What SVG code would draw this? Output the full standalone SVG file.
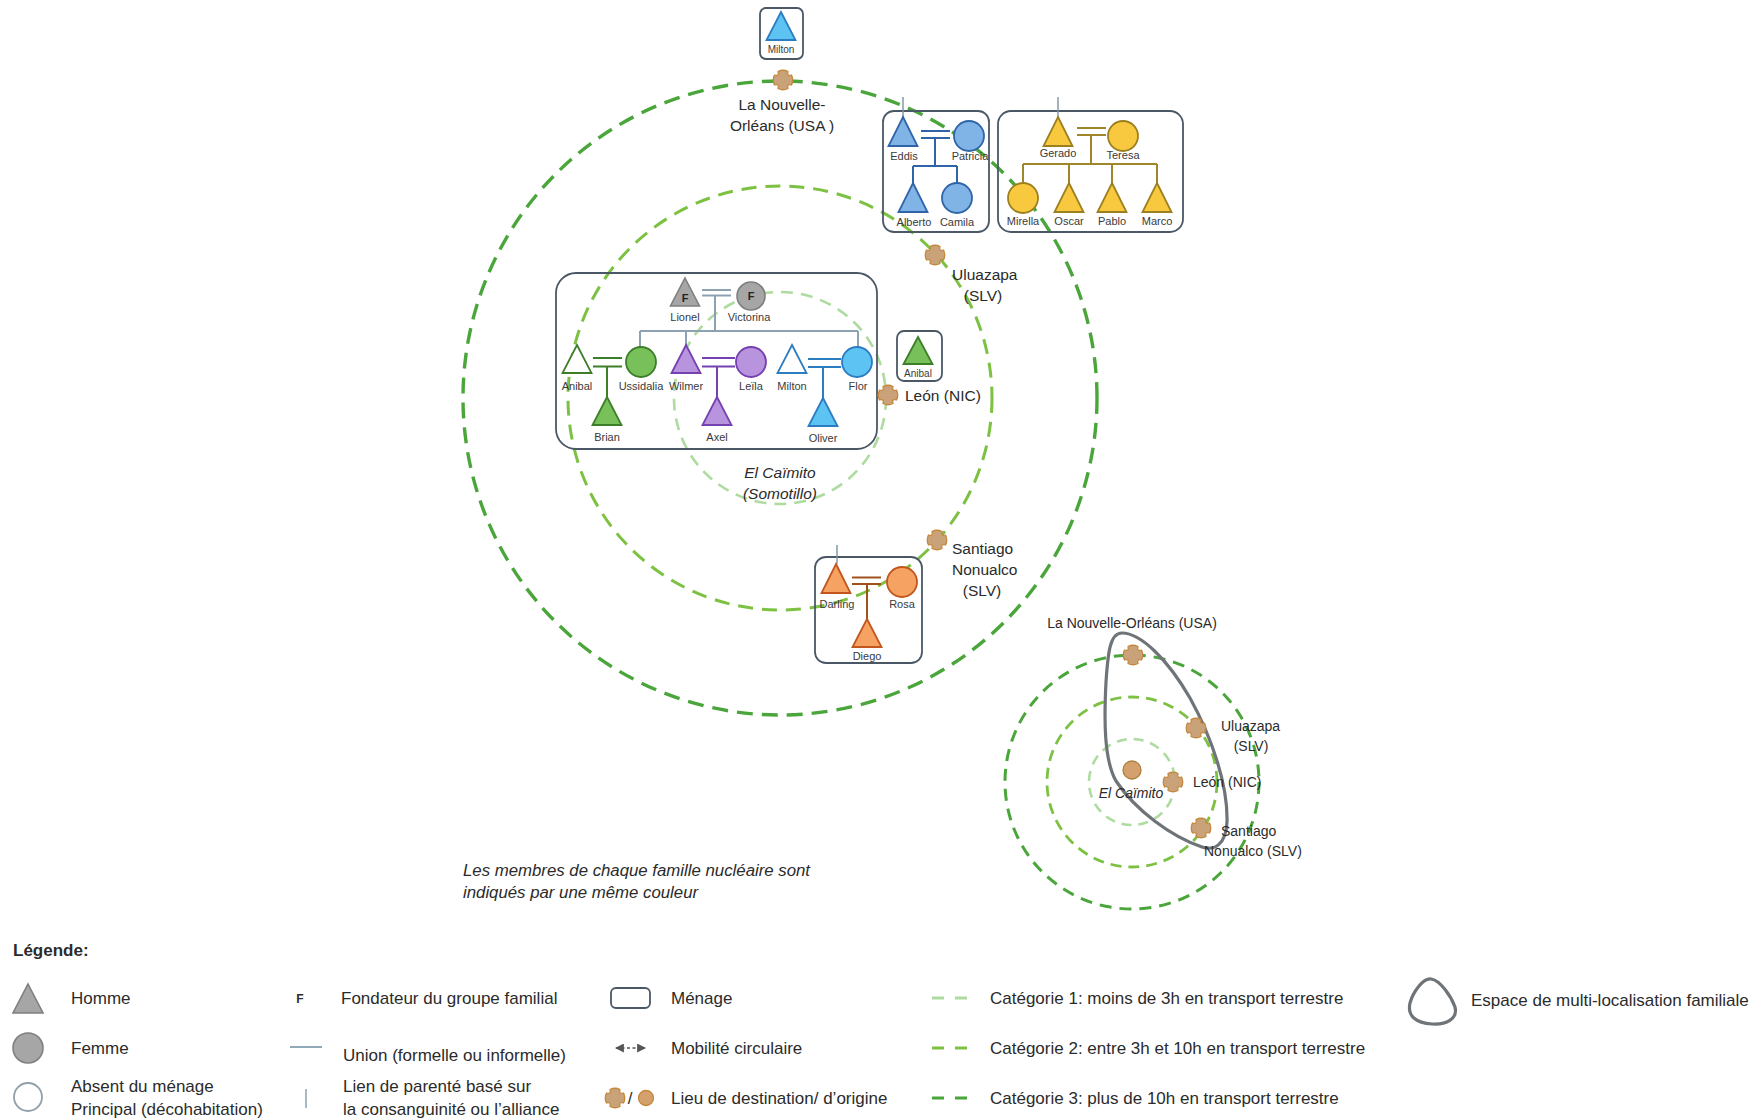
<svg xmlns="http://www.w3.org/2000/svg" width="1760" height="1120" viewBox="0 0 1760 1120">
<style>
text{font-family:"Liberation Sans",Arial,sans-serif;fill:#2b2b2b}
.box{fill:none;stroke:#4a5866;stroke-width:1.8}
.lbl{font-size:11px;text-anchor:middle;fill:#3a3a3a}
.lbs{font-size:10px;text-anchor:middle;fill:#3a3a3a}
.map{font-size:15.5px}
.smap{font-size:14px}
.leg{font-size:17px}
.note{font-size:16.8px;font-style:italic}
.it{font-style:italic}
.fl{font-size:11px;font-weight:bold;text-anchor:middle;fill:#222}
.c1{fill:none;stroke:#aedb9f;stroke-width:2.6;stroke-dasharray:12 8}
.c2{fill:none;stroke:#7cc142;stroke-width:3;stroke-dasharray:15 9}
.c3{fill:none;stroke:#4aa63a;stroke-width:3.4;stroke-dasharray:16 9}
.s1{fill:none;stroke:#aedb9f;stroke-width:2.6;stroke-dasharray:10 7}
.s2{fill:none;stroke:#7cc142;stroke-width:2.8;stroke-dasharray:11 7}
.s3{fill:none;stroke:#4aa63a;stroke-width:3;stroke-dasharray:12 8}
.gray{fill:#a6a6a6;stroke:#7f7f7f;stroke-width:1.6}
.green{fill:#77c05a;stroke:#3d7f29;stroke-width:1.8}
.greenA{fill:#fff;stroke:#3d7f29;stroke-width:1.8}
.purple{fill:#b893de;stroke:#7540b0;stroke-width:1.8}
.blue{fill:#5cc3f2;stroke:#2b7cc0;stroke-width:1.8}
.blueA{fill:#fff;stroke:#2b7cc0;stroke-width:1.8}
.eblue{fill:#80b3e6;stroke:#2f65a8;stroke-width:1.8}
.yellow{fill:#f8c93e;stroke:#9c8020;stroke-width:1.8}
.orange{fill:#f5a263;stroke:#c2561c;stroke-width:1.8}
.ln{fill:none;stroke-width:2}
.lgray{stroke:#8ea1b2}
.lgreen{stroke:#3d7f29}
.lpurple{stroke:#7540b0}
.lblue{stroke:#2b7cc0}
.leblue{stroke:#2f65a8}
.lyellow{stroke:#a0862a}
.lorange{stroke:#a0521c}
.kin{stroke:#7d93a3;stroke-width:1.4;fill:none}
.mkr{fill:#c9a27a;stroke:#c4883c;stroke-width:1.3;stroke-linejoin:round}
.blob{fill:none;stroke:#6f7479;stroke-width:3.2}
</style>
<defs>
<path id="mk" d="M-5,-8.5 Q0,-11 5,-8.5 Q3.5,-3.5 8.5,-5 Q11,0 8.5,5 Q3.5,3.5 5,8.5 Q0,11 -5,8.5 Q-3.5,3.5 -8.5,5 Q-11,0 -8.5,-5 Q-3.5,-3.5 -5,-8.5 Z"/>
<marker id="ah" viewBox="0 0 8 8" refX="7" refY="4" markerWidth="6" markerHeight="6" orient="auto-start-reverse">
<path d="M0,0 L8,4 L0,8 Z" fill="#555"/>
</marker>
</defs>
<rect width="1760" height="1120" fill="#fff"/>

<!-- distance rings, main map -->
<g id="rings-main">
<circle class="c3" cx="780" cy="398" r="317"/>
<circle class="c2" cx="780" cy="398" r="212"/>
<circle class="c1" cx="780" cy="398" r="106"/>
</g>

<!-- distance rings, small map -->
<g id="rings-small">
<circle class="s3" cx="1132" cy="782" r="127"/>
<circle class="s2" cx="1132" cy="782" r="85"/>
<circle class="s1" cx="1132" cy="782" r="43"/>
</g>

<!-- households -->
<g id="households">
<rect id="hh-caimito" class="box" x="556" y="273" width="321" height="176" rx="20"/>
<rect id="hh-anibal" class="box" x="897" y="331" width="45" height="50" rx="7"/>
<rect id="hh-milton" class="box" x="760" y="8" width="43" height="51" rx="6"/>
<rect id="hh-eddis" class="box" x="883" y="111" width="106" height="121" rx="11"/>
<rect id="hh-gerado" class="box" x="998" y="111" width="185" height="121" rx="13"/>
<rect id="hh-darling" class="box" x="815" y="557" width="107" height="106" rx="11"/>
</g>

<!-- connectors -->
<g id="connectors">
<path class="ln lgray" d="M702,290 H731 M702,295.5 H731 M715,295.5 V331 M640,331 H858 M640,331 V347 M686,331 V345 M858,331 V347"/>
<path class="ln lgreen" d="M593,358 H622 M593,366.5 H622 M607,366.5 V397"/>
<path class="ln lpurple" d="M702,358 H735 M702,366.5 H735 M717,366.5 V397"/>
<path class="ln lblue" d="M808,359 H841 M808,367 H841 M823,367 V398"/>
<path class="kin" d="M903,97 V117"/>
<path class="ln leblue" d="M921,131 H950 M921,138 H950 M935,138 V166 M913,166 H957 M913,166 V183 M957,166 V183"/>
<path class="kin" d="M1058,97 V117"/>
<path class="ln lyellow" d="M1077,128 H1106 M1077,135 H1106 M1091,135 V164 M1023,164 H1157 M1023,164 V183 M1069,164 V183 M1112,164 V183 M1157,164 V183"/>
<path class="kin" d="M837,545 V564"/>
<path class="ln lorange" d="M852,577.5 H881 M852,584 H881 M867,584 V619"/>
</g>

<!-- people -->
<g id="n-lionel"><polygon class="gray" points="685,278 699.5,306 670.5,306"/><text class="fl" x="685" y="302">F</text><text class="lbl" x="685" y="321">Lionel</text></g>
<g id="n-victorina"><circle class="gray" cx="751" cy="296" r="14"/><text class="fl" x="751" y="300">F</text><text class="lbl" x="749" y="321">Victorina</text></g>
<g id="n-anibal-abs"><polygon class="greenA" points="577,345 591.5,373 562.5,373"/><text class="lbl" x="577" y="390">Anibal</text></g>
<g id="n-ussidalia"><circle class="green" cx="641" cy="362" r="15"/><text class="lbl" x="641" y="390">Ussidalia</text></g>
<g id="n-brian"><polygon class="green" points="607,397 621.5,425 592.5,425"/><text class="lbl" x="607" y="441">Brian</text></g>
<g id="n-wilmer"><polygon class="purple" points="686,345 700.5,373 671.5,373"/><text class="lbl" x="686" y="390">Wilmer</text></g>
<g id="n-leila"><circle class="purple" cx="751" cy="362" r="15"/><text class="lbl" x="751" y="390">Leïla</text></g>
<g id="n-axel"><polygon class="purple" points="717,397 731.5,425 702.5,425"/><text class="lbl" x="717" y="441">Axel</text></g>
<g id="n-milton-abs"><polygon class="blueA" points="792,345 806.5,373 777.5,373"/><text class="lbl" x="792" y="390">Milton</text></g>
<g id="n-flor"><circle class="blue" cx="857" cy="362" r="15"/><text class="lbl" x="858" y="390">Flor</text></g>
<g id="n-oliver"><polygon class="blue" points="823,398 837.5,426 808.5,426"/><text class="lbl" x="823" y="442">Oliver</text></g>

<g id="n-anibal"><polygon class="green" points="918,337 932.5,364 903.5,364"/><text class="lbs" x="918" y="377">Anibal</text></g>
<g id="n-milton"><polygon class="blue" points="781,12 795.5,40 766.5,40"/><text class="lbs" x="781" y="53">Milton</text></g>

<g id="n-eddis"><polygon class="eblue" points="903,117 917.5,146 888.5,146"/><text class="lbl" x="904" y="160">Eddis</text></g>
<g id="n-patricia"><circle class="eblue" cx="969" cy="136" r="15"/><text class="lbl" x="970" y="160">Patricia</text></g>
<g id="n-alberto"><polygon class="eblue" points="913,183 927.5,212 898.5,212"/><text class="lbl" x="914" y="226">Alberto</text></g>
<g id="n-camila"><circle class="eblue" cx="957" cy="198" r="15"/><text class="lbl" x="957" y="226">Camila</text></g>

<g id="n-gerado"><polygon class="yellow" points="1058,117 1072.5,146 1043.5,146"/><text class="lbl" x="1058" y="157">Gerado</text></g>
<g id="n-teresa"><circle class="yellow" cx="1123" cy="136" r="15"/><text class="lbl" x="1123" y="159">Teresa</text></g>
<g id="n-mirella"><circle class="yellow" cx="1023" cy="198" r="15"/><text class="lbl" x="1023" y="225">Mirella</text></g>
<g id="n-oscar"><polygon class="yellow" points="1069,183 1083.5,212 1054.5,212"/><text class="lbl" x="1069" y="225">Oscar</text></g>
<g id="n-pablo"><polygon class="yellow" points="1112,183 1126.5,212 1097.5,212"/><text class="lbl" x="1112" y="225">Pablo</text></g>
<g id="n-marco"><polygon class="yellow" points="1157,183 1171.5,212 1142.5,212"/><text class="lbl" x="1157" y="225">Marco</text></g>

<g id="n-darling"><polygon class="orange" points="836,564 850.5,593 821.5,593"/><text class="lbl" x="837" y="608">Darling</text></g>
<g id="n-rosa"><circle class="orange" cx="902" cy="582" r="15"/><text class="lbl" x="902" y="608">Rosa</text></g>
<g id="n-diego"><polygon class="orange" points="867,619 881.5,647 852.5,647"/><text class="lbl" x="867" y="660">Diego</text></g>

<!-- places, main map -->
<g id="p-nouvelle-orleans"><use href="#mk" class="mkr" x="783" y="80"/><text class="map" x="782" y="110" text-anchor="middle">La Nouvelle-</text><text class="map" x="782" y="131" text-anchor="middle">Orléans (USA )</text></g>
<g id="p-uluazapa"><use href="#mk" class="mkr" x="935" y="255"/><text class="map" x="952" y="280">Uluazapa</text><text class="map" x="983" y="301" text-anchor="middle">(SLV)</text></g>
<g id="p-leon"><use href="#mk" class="mkr" x="888" y="395"/><text class="map" x="905" y="401">León (NIC)</text></g>
<g id="p-santiago"><use href="#mk" class="mkr" x="937" y="540"/><text class="map" x="952" y="554">Santiago</text><text class="map" x="952" y="575">Nonualco</text><text class="map" x="982" y="596" text-anchor="middle">(SLV)</text></g>
<g id="p-caimito"><text class="map it" x="780" y="478" text-anchor="middle">El Caïmito</text><text class="map it" x="780" y="499" text-anchor="middle">(Somotillo)</text></g>

<!-- small map -->
<g id="small-map">
<path class="blob" d="M1122,633 C1141,633 1168,660 1190,698 C1212,738 1228,785 1227,822 C1226,845 1214,851 1202,847 C1172,837 1136,811 1116,781 C1104,760 1104,720 1106,682 C1108,652 1110,633 1122,633 Z"/>
<use href="#mk" class="mkr" x="1133" y="655"/>
<use href="#mk" class="mkr" x="1196" y="728"/>
<use href="#mk" class="mkr" x="1173" y="782"/>
<use href="#mk" class="mkr" x="1201" y="828"/>
<circle cx="1132" cy="770" r="9" fill="#d3a06e" stroke="#b07d3a" stroke-width="1.3"/>
<text class="smap" x="1132" y="628" text-anchor="middle">La Nouvelle-Orléans (USA)</text>
<text class="smap" x="1221" y="731">Uluazapa</text>
<text class="smap" x="1251" y="751" text-anchor="middle">(SLV)</text>
<text class="smap" x="1193" y="787">León (NIC)</text>
<text class="smap" x="1221" y="836">Santiago</text>
<text class="smap" x="1204" y="856">Nonualco (SLV)</text>
<text class="smap it" x="1131" y="798" text-anchor="middle">El Caïmito</text>
</g>

<!-- note -->
<g id="note">
<text class="note" x="463" y="876">Les membres de chaque famille nucléaire sont</text>
<text class="note" x="463" y="898">indiqués par une même couleur</text>
</g>

<!-- legend -->
<g id="legend">
<text x="13" y="956" font-size="17" font-weight="bold">Légende:</text>
<polygon class="gray" points="28,984 43,1013 13,1013"/>
<text class="leg" x="71" y="1004">Homme</text>
<circle class="gray" cx="28" cy="1048" r="15"/>
<text class="leg" x="71" y="1054">Femme</text>
<circle cx="28" cy="1097" r="14" fill="#fff" stroke="#8fa0a8" stroke-width="1.8"/>
<text class="leg" x="71" y="1092">Absent du ménage</text>
<text class="leg" x="71" y="1115">Principal (décohabitation)</text>

<text x="300" y="1003" font-size="12" font-weight="bold" text-anchor="middle">F</text>
<text class="leg" x="341" y="1004">Fondateur du groupe familial</text>
<line x1="290" y1="1047" x2="322" y2="1047" stroke="#8fa9b8" stroke-width="2"/>
<text class="leg" x="343" y="1061">Union (formelle ou informelle)</text>
<line x1="306" y1="1089" x2="306" y2="1108" stroke="#8fa9b8" stroke-width="1.6"/>
<text class="leg" x="343" y="1092">Lien de parenté basé sur</text>
<text class="leg" x="343" y="1115">la consanguinité ou l’alliance</text>

<rect class="box" x="611" y="988" width="39" height="20" rx="5"/>
<text class="leg" x="671" y="1004">Ménage</text>
<line x1="616" y1="1048" x2="645" y2="1048" stroke="#555" stroke-width="1.5" stroke-dasharray="3 2.5" marker-start="url(#ah)" marker-end="url(#ah)"/>
<text class="leg" x="671" y="1054">Mobilité circulaire</text>
<use href="#mk" class="mkr" x="615" y="1098"/>
<text x="630" y="1104" font-size="17" text-anchor="middle">/</text>
<circle cx="646" cy="1098" r="7.5" fill="#d3a06e" stroke="#c4883c" stroke-width="1.3"/>
<text class="leg" x="671" y="1104">Lieu de destination/ d’origine</text>

<line x1="932" y1="998" x2="968" y2="998" stroke="#aedb9f" stroke-width="3" stroke-dasharray="12 11"/>
<text class="leg" x="990" y="1004">Catégorie 1: moins de 3h en transport terrestre</text>
<line x1="932" y1="1048" x2="968" y2="1048" stroke="#7cc142" stroke-width="3" stroke-dasharray="12 11"/>
<text class="leg" x="990" y="1054">Catégorie 2: entre 3h et 10h en transport terrestre</text>
<line x1="932" y1="1098" x2="968" y2="1098" stroke="#4aa63a" stroke-width="3" stroke-dasharray="12 11"/>
<text class="leg" x="990" y="1104">Catégorie 3: plus de 10h en transport terrestre</text>

<path class="blob" d="M1431,979 C1440,980 1451,996 1455,1007 C1458,1019 1446,1025 1432,1024 C1416,1023 1407,1016 1410,1003 C1413,992 1423,978 1431,979 Z"/>
<text class="leg" x="1471" y="1006">Espace de multi-localisation familiale</text>
</g>
</svg>
